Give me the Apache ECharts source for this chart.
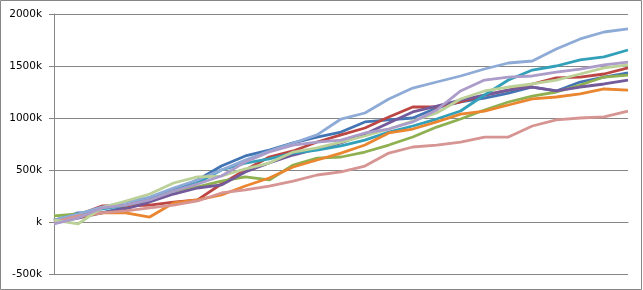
<!DOCTYPE html>
<html><head><meta charset="utf-8">
<script src="https://cdn.jsdelivr.net/npm/echarts@6/dist/echarts.min.js"></script>
<style>html,body{margin:0;padding:0;background:#fff}.c{width:643px;height:290px}</style>
</head><body><div id="main" class="c"></div>
<script>
// values in thousands
const steps = Array.from({length: 25}, (_, i) => String(i + 1));
const yTicks = [-500, 0, 500, 1000, 1500, 2000];
const seriesBlue = [10,87,87,144,212,308,404,538,635,692,760,817,865,962,981,1000,1096,1154,1192,1240,1298,1260,1346,1394,1433];
const seriesRed = [19,67,154,154,163,192,212,365,500,625,683,769,837,904,1010,1106,1106,1154,1221,1269,1327,1385,1394,1423,1481];
const seriesGreen = [58,77,135,163,212,298,337,394,433,404,548,615,625,673,740,817,913,990,1077,1154,1211,1250,1317,1394,1413];
const seriesPurple = [0,38,87,125,192,269,327,356,481,567,644,702,760,846,952,1058,1115,1173,1221,1269,1298,1260,1298,1327,1365];
const seriesTeal = [19,77,125,163,221,298,375,500,567,606,663,692,731,788,865,923,990,1067,1221,1365,1461,1500,1558,1587,1654];
const seriesOrange = [19,48,87,87,48,183,212,260,346,423,529,596,663,740,856,894,962,1038,1067,1125,1183,1202,1231,1279,1269];
const seriesLightBlue = [19,77,144,192,240,327,404,500,596,683,760,837,990,1048,1183,1288,1346,1404,1471,1529,1548,1663,1760,1827,1856];
const seriesPink = [0,58,87,106,135,163,202,279,308,346,394,452,481,538,663,721,740,769,817,817,923,981,1000,1010,1067];
const seriesLightGreen = [19,-19,135,202,269,375,433,442,510,567,673,712,769,827,894,971,1048,1183,1260,1298,1327,1365,1423,1481,1510];
const seriesLightPurple = [-19,38,135,163,212,298,365,442,577,673,740,769,788,856,894,962,1077,1260,1365,1394,1404,1442,1471,1510,1538];

const list = [
  [seriesBlue, '#4374B3'],
  [seriesRed, '#BC4643'],
  [seriesGreen, '#8FB050'],
  [seriesPurple, '#735A9B'],
  [seriesTeal, '#33A0B9'],
  [seriesOrange, '#E9862F'],
  [seriesLightBlue, '#8EAAD6'],
  [seriesPink, '#D69492'],
  [seriesLightGreen, '#BBD198'],
  [seriesLightPurple, '#AC9CC9']
];

const fullLabel = {margin: 12, color: '#000', fontFamily: 'DejaVu Sans', fontSize: 10.5, align: 'right',
  formatter: v => (v === 0 ? '' : String(v)) + 'k'};
const opt = {
  animation: false,
  grid: {left: 54, right: 15, top: 14, bottom: 16},
  xAxis: {type: 'category', data: steps, boundaryGap: false,
    axisLine: {show: true, lineStyle: {color: '#868686'}},
    axisTick: {show: false}, axisLabel: {show: false}, splitLine: {show: false}},
  yAxis: {type: 'value', position: 'left', offset: 0, min: yTicks[0], max: yTicks[yTicks.length - 1], interval: 500,
    axisLine: {show: true, lineStyle: {color: '#868686'}},
    axisTick: {show: true, length: 5, lineStyle: {color: '#868686'}},
    axisLabel: fullLabel,
    splitLine: {show: true, lineStyle: {color: '#868686', width: 1}}},
  series: list.map(([d, c]) => ({type: 'line', data: d, showSymbol: false,
    lineStyle: {color: c, width: 2.8}, itemStyle: {color: c}}))
};
opt.graphic = [{type: 'rect', shape: {x: 0.5, y: 0.5, width: 641, height: 289}, style: {fill: 'none', stroke: '#868686', lineWidth: 1}, silent: true}];
echarts.init(document.getElementById('main')).setOption(opt);
</script></body></html>
